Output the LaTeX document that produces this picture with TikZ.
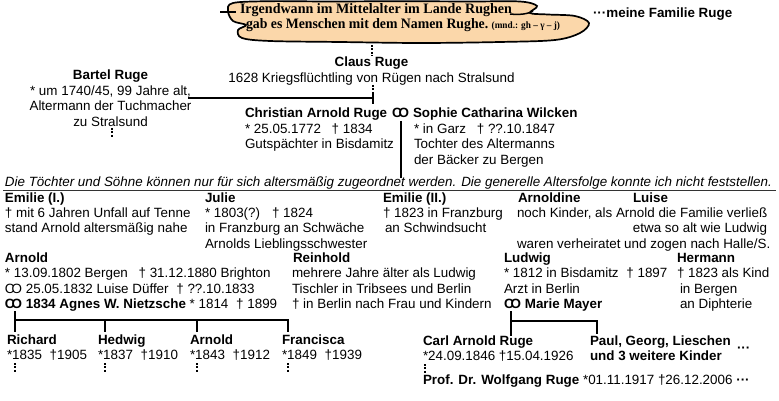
\documentclass[tikz,border=0pt]{standalone}
\usepackage{fontspec}
\usepackage{graphicx}
\setmainfont{Liberation Sans}
\newfontfamily\serifsmall{Liberation Serif}
\IfFileExists{yfonts.sty}{\usepackage{yfonts}\newcommand\cloudfont{\swabfamily}}{\newcommand\cloudfont{\serifsmall\bfseries}}
\definecolor{cloudc}{RGB}{251,215,170}
\newcommand\tl[1]{\begin{tabular}[t]{@{}l@{}}#1\end{tabular}}
\newcommand\tc[1]{\begin{tabular}[t]{@{}c@{}}#1\end{tabular}}
\newcommand\gap{\hspace{7pt}}
\newcommand\gapb{\hspace{4pt}}
\newcommand\marr{\textbf{C\kern-0.22em O}}
\newcommand\marrn{C\kern-0.22em O}
\newcommand\st{{*}}
\begin{document}
\begin{tikzpicture}[x=1pt,y=-1pt,
  every node/.style={inner sep=0pt,outer sep=0pt,font=\fontsize{13.4}{15.4}\selectfont},
  txt/.style={anchor=base west},
  ctr/.style={anchor=base},
  rtx/.style={anchor=base east},
  conn/.style={line width=2pt},
  dotline/.style={line width=2.2pt,dash pattern=on 1.8pt off 1.6pt},
  rule/.style={line width=0.9pt,black!80}]
\fill[white] (0,0) rectangle (779,401);
\useasboundingbox (0,0) rectangle (779,401);
% cloud
\filldraw[fill=cloudc,draw=black,line width=1.7pt] plot[smooth cycle,tension=0.55] coordinates
 {(233,3) (270,1.2) (330,1.5) (400,1.2) (470,1.5) (520,1.5) (537,6) (530,13) (548,14.5) (575,16) (589,23) (580,33) (555,40) (500,42) (420,43) (340,42) (270,41) (242,38) (238,30) (246,25) (233,21) (228,11)};
\draw[line width=1.5pt] (220,12) -- (236,12);
\draw[line width=1.5pt] (510,14) .. controls (520,15) and (528,14) .. (533,11);
\node[txt] (cl1) at (240,13.5) {\resizebox{272pt}{10pt}{\cloudfont Irgendwann im Mittelalter im Lande Rughen}};
\node[txt] (cl2) at (246,28.5) {\resizebox{314pt}{10pt}{\cloudfont gab es Menschen mit dem Namen Rughe.\ {\serifsmall\small (mnd.: gh – γ – j)}}};
\node[txt] (fam) at (593,18) {\textbf{···meine Familie Ruge}};
% Claus
\node[ctr] (claus) at (371.5,67) {\tc{\textbf{Claus Ruge}\\1628 Kriegsflüchtling von Rügen nach Stralsund}};
\coordinate (cloudb) at (372,45);
\coordinate (claust) at (372,56);
\draw[dotline] (cloudb) -- (claust);
\coordinate (clausb) at (373,85);
\coordinate (clausm) at (373,94);
\coordinate (clausj) at (373,98);
\coordinate (clausk) at (373,104);
\draw[dotline] (clausb) -- (clausm);
\draw[conn] (clausm) -- (clausk);
% Bartel
\node[ctr] (bartel) at (110.5,80) {\tc{\textbf{Bartel Ruge}\\\st{} um 1740/45, 99 Jahre alt,\\Altermann der Tuchmacher\\zu Stralsund}};
\coordinate (bartelj) at (188,98);
\draw[conn] (bartelj) -- (clausj);
\coordinate (bartelb) at (112,128);
\coordinate (barteld) at (112,138);
\draw[dotline] (bartelb) -- (barteld);
% Christian & Sophie
\node[txt] (christ) at (245,118) {\tl{\textbf{Christian Arnold Ruge}\\\st{} 25.05.1772 \gap † 1834\\Gutspächter in Bisdamitz}};
\node[txt] (m1) at (392,118) {\marr};
\node[txt] (sophie) at (413,118) {\tl{\textbf{Sophie Catharina Wilcken}\\\hspace{1pt}\st{} in Garz \gap † ??.10.1847\\\hspace{1pt}Tochter des Altermanns\\\hspace{1pt}der Bäcker zu Bergen}};
\coordinate (m1b) at (401,121);
\coordinate (notet) at (401,178);
\draw[conn] (m1b) -- (notet);
% note
\node[txt] (note) at (5,186) {\itshape Die Töchter und Söhne können nur für sich altersmäßig zugeordnet werden. Die generelle Altersfolge konnte ich nicht feststellen.};
\coordinate (ul1) at (3,190);
\coordinate (ul2) at (776,190);
\draw[rule] (ul1) -- (ul2);
% row 1
\node[txt] (em1) at (5,202) {\tl{\textbf{Emilie (I.)}\\† mit 6 Jahren Unfall auf Tenne\\stand Arnold altersmäßig nahe}};
\node[txt] (julie) at (205,202) {\tl{\textbf{Julie}\\\st{} 1803(?) \gap † 1824\\in Franzburg an Schwäche\\Arnolds Lieblingsschwester}};
\node[txt] (em2) at (383,202) {\tl{\textbf{Emilie (II.)}\\† 1823 in Franzburg\\\hspace{2pt}an Schwindsucht}};
\node[txt] (arnoldine) at (518,202) {\textbf{Arnoldine}};
\node[txt] (luise) at (633,202) {\textbf{Luise}};
\node[txt] (ak1) at (517,217.4) {noch Kinder, als Arnold die Familie verließ};
\node[rtx] (ak2) at (767,232.8) {etwa so alt wie Ludwig};
\node[txt] (ak3) at (517,248.2) {waren verheiratet und zogen nach Halle/S.};
% row 2
\node[txt] (arnold) at (5,262.5) {\tl{\textbf{Arnold}\\\st{} 13.09.1802 Bergen \gap † 31.12.1880 Brighton\\\marrn\ 25.05.1832 Luise Düffer \gapb † ??.10.1833\\\marr\ \textbf{1834 Agnes W. Nietzsche} * 1814 \gapb † 1899}};
\node[txt] (reinhold) at (292,262.5) {\tl{\hspace{1pt}\textbf{Reinhold}\\mehrere Jahre älter als Ludwig\\Tischler in Tribsees und Berlin\\† in Berlin nach Frau und Kindern}};
\node[txt] (ludwig) at (504,262.5) {\tl{\textbf{Ludwig}\\\st{} 1812 in Bisdamitz \gapb † 1897\\Arzt in Berlin\\\marr\ \textbf{Marie Mayer}}};
\node[txt] (hermann) at (677,262.5) {\tl{\textbf{Hermann}\\† 1823 als Kind\\\hspace{3pt}in Bergen\\\hspace{3pt}an Diphterie}};
% Arnold's children
\coordinate (a0) at (15,311);
\coordinate (aj) at (15,320);
\coordinate (ak) at (288,320);
\draw[conn] (a0) -- (15,332);
\draw[conn] (aj) -- (ak);
\draw[conn] (105,319) -- (105,332);
\draw[conn] (197,319) -- (197,332);
\draw[conn] (288,319) -- (288,332);
\node[txt] (richard) at (7,344) {\tl{\textbf{Richard}\\\st1835 \gapb †1905}};
\node[txt] (hedwig) at (98,344) {\tl{\textbf{Hedwig}\\\st1837 \gapb †1910}};
\node[txt] (arnold2) at (190,344) {\tl{\textbf{Arnold}\\\st1843 \gapb †1912}};
\node[txt] (francisca) at (282,344) {\tl{\textbf{Francisca}\\\st1849 \gapb †1939}};
\foreach \xx in {15,105,197,288}{
  \draw[dotline] (\xx,363) -- (\xx,373);
}
% Ludwig's children
\coordinate (l0) at (511,311);
\coordinate (lj) at (511,321);
\coordinate (lk) at (597,321);
\draw[conn] (l0) -- (511,336);
\draw[conn] (lj) -- (lk);
\draw[conn] (597,320) -- (597,334);
\node[txt] (carl) at (423,345.5) {\tl{\textbf{Carl Arnold Ruge}\\\st24.09.1846 †15.04.1926}};
\node[txt] (paul) at (590,345.5) {\tl{\textbf{Paul, Georg, Lieschen}\\\textbf{und 3 weitere Kinder}}};
\node[txt] (pauldots) at (737,352) {\textbf{···}};
\coordinate (carlb) at (425,364);
\coordinate (profb) at (425,373);
\draw[dotline] (carlb) -- (profb);
\node[txt] (prof) at (423,384.5) {\textbf{Prof. Dr. Wolfgang Ruge} *01.11.1917 †26.12.2006 \textbf{···}};
\end{tikzpicture}
\end{document}
